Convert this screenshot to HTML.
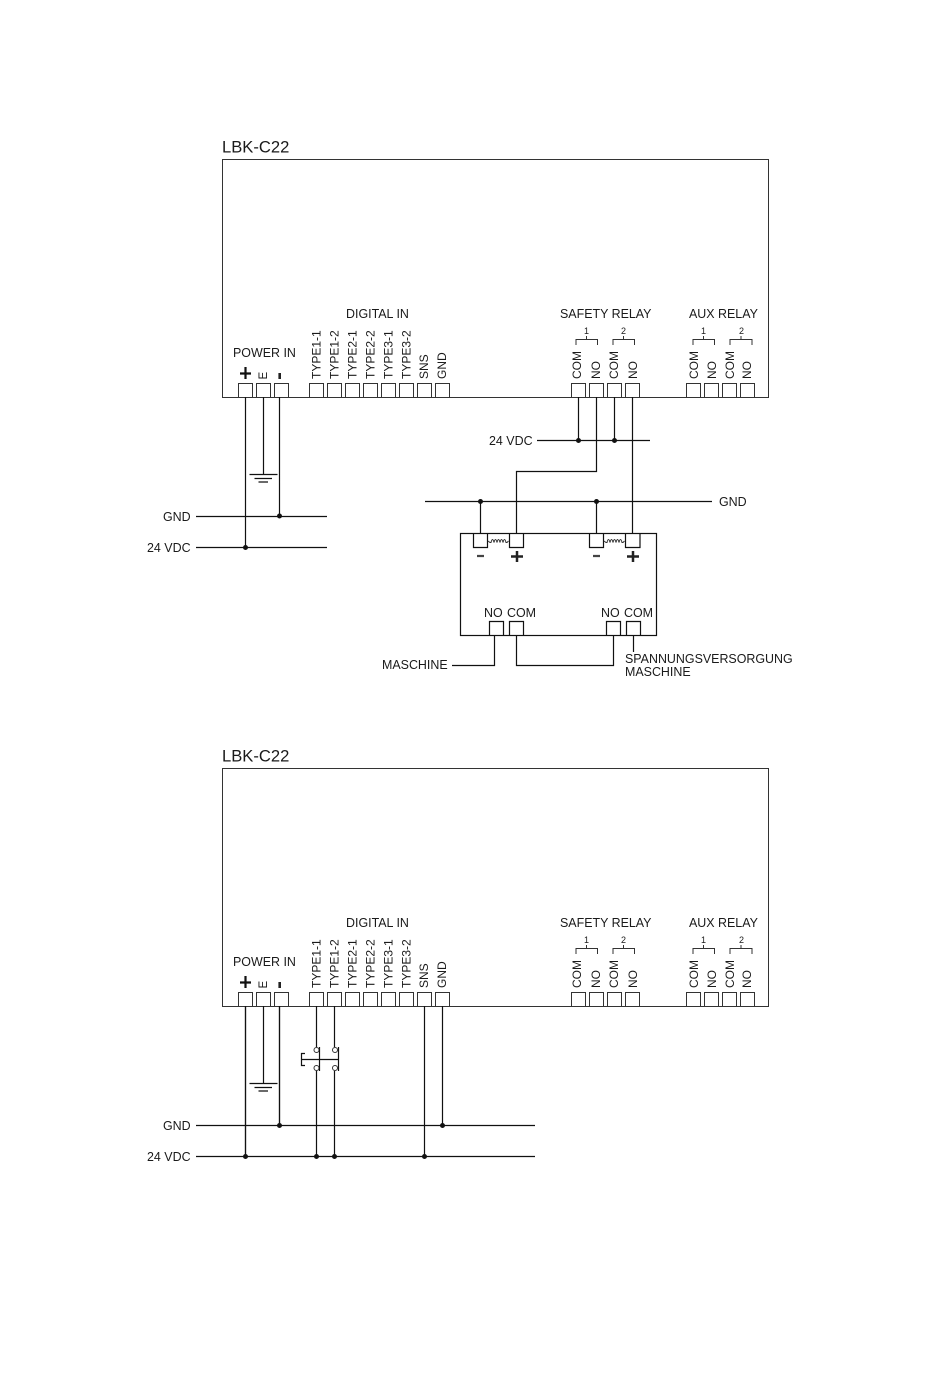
<!DOCTYPE html>
<html><head><meta charset="utf-8"><style>
html,body{margin:0;padding:0;background:#fff}
svg{display:block}
text{font-family:"Liberation Sans",sans-serif;font-size:12.45px;fill:#1a1a1a}
text[transform]{font-size:12px}
.l{fill:none;stroke:#111;stroke-width:1.2}
.t{fill:none;stroke:#333;stroke-width:1}
.d{fill:#111}
.b{font-size:16.6px}
</style></head><body>
<svg width="950" height="1378" viewBox="0 0 950 1378" xmlns="http://www.w3.org/2000/svg">
<defs>
<g id="frame">
<rect class="t" x="222.5" y="159.5" width="546" height="238"/>
<path class="t" d="M238.5 397V383.5H252.5V397M256.5 397V383.5H270.5V397M274.5 397V383.5H288.5V397M309.5 397V383.5H323.5V397M327.5 397V383.5H341.5V397M345.5 397V383.5H359.5V397M363.5 397V383.5H377.5V397M381.5 397V383.5H395.5V397M399.5 397V383.5H413.5V397M417.5 397V383.5H431.5V397M435.5 397V383.5H449.5V397"/>
<path class="t" d="M571.5 397V383.5H585.5V397M589.5 397V383.5H603.5V397M607.5 397V383.5H621.5V397M625.5 397V383.5H639.5V397M686.5 397V383.5H700.5V397M704.5 397V383.5H718.5V397M722.5 397V383.5H736.5V397M740.5 397V383.5H754.5V397"/>
<path class="t" d="M576 345V339.500H597.500V345M613 345V339.500H634.500V345M693 345V339.500H714.500V345M730 345V339.500H752V345"/>
<path class="t" d="M586.500 339.500V336M623.500 339.500V336M703.500 339.500V336M741 339.500V336"/>
<path d="M245.500 367V379M240 373.500H251" stroke="#111" stroke-width="2.200" fill="none"/>
<path d="M279.700 373V379" stroke="#222" stroke-width="2.600" fill="none"/>
<path class="l" d="M245.500 397V547.500M263.500 397V474.500M279.500 397V516M249.500 474.500H277.500M254.500 478.500H272M258.500 482H268"/>
</g>
</defs>

<use href="#frame"/>
<use href="#frame" y="609"/>

<text class="b" x="222" y="152.500">LBK-C22</text>
<text x="233" y="357">POWER IN</text>
<text x="346" y="318">DIGITAL IN</text>
<text x="560" y="318">SAFETY RELAY</text>
<text x="689" y="318">AUX RELAY</text>
<text x="584" y="334" style="font-size:9px">1</text>
<text x="621" y="334" style="font-size:9px">2</text>
<text x="701" y="334" style="font-size:9px">1</text>
<text x="739" y="334" style="font-size:9px">2</text>
<text transform="translate(267,379.500) rotate(-90)" style="font-size:11.500px">E</text>
<text transform="translate(320.500,379) rotate(-90)">TYPE1-1</text>
<text transform="translate(338.500,379) rotate(-90)">TYPE1-2</text>
<text transform="translate(356.500,379) rotate(-90)">TYPE2-1</text>
<text transform="translate(374.500,379) rotate(-90)">TYPE2-2</text>
<text transform="translate(392.500,379) rotate(-90)">TYPE3-1</text>
<text transform="translate(410.500,379) rotate(-90)">TYPE3-2</text>
<text transform="translate(428,379) rotate(-90)">SNS</text>
<text transform="translate(446,379) rotate(-90)">GND</text>
<text transform="translate(581,379) rotate(-90)">COM</text>
<text transform="translate(600,379) rotate(-90)">NO</text>
<text transform="translate(618,379) rotate(-90)">COM</text>
<text transform="translate(637,379) rotate(-90)">NO</text>
<text transform="translate(698,379) rotate(-90)">COM</text>
<text transform="translate(716,379) rotate(-90)">NO</text>
<text transform="translate(734,379) rotate(-90)">COM</text>
<text transform="translate(751,379) rotate(-90)">NO</text>

<text class="b" x="222" y="761.500">LBK-C22</text>
<text x="233" y="966">POWER IN</text>
<text x="346" y="927">DIGITAL IN</text>
<text x="560" y="927">SAFETY RELAY</text>
<text x="689" y="927">AUX RELAY</text>
<text x="584" y="943" style="font-size:9px">1</text>
<text x="621" y="943" style="font-size:9px">2</text>
<text x="701" y="943" style="font-size:9px">1</text>
<text x="739" y="943" style="font-size:9px">2</text>
<text transform="translate(267,988.500) rotate(-90)" style="font-size:11.500px">E</text>
<text transform="translate(320.500,988) rotate(-90)">TYPE1-1</text>
<text transform="translate(338.500,988) rotate(-90)">TYPE1-2</text>
<text transform="translate(356.500,988) rotate(-90)">TYPE2-1</text>
<text transform="translate(374.500,988) rotate(-90)">TYPE2-2</text>
<text transform="translate(392.500,988) rotate(-90)">TYPE3-1</text>
<text transform="translate(410.500,988) rotate(-90)">TYPE3-2</text>
<text transform="translate(428,988) rotate(-90)">SNS</text>
<text transform="translate(446,988) rotate(-90)">GND</text>
<text transform="translate(581,988) rotate(-90)">COM</text>
<text transform="translate(600,988) rotate(-90)">NO</text>
<text transform="translate(618,988) rotate(-90)">COM</text>
<text transform="translate(637,988) rotate(-90)">NO</text>
<text transform="translate(698,988) rotate(-90)">COM</text>
<text transform="translate(716,988) rotate(-90)">NO</text>
<text transform="translate(734,988) rotate(-90)">COM</text>
<text transform="translate(751,988) rotate(-90)">NO</text>

<!-- Top diagram -->
<path class="l" d="M196 516.500H327M196 547.500H327"/>
<circle class="d" cx="279.500" cy="516" r="2.500"/><circle class="d" cx="245.500" cy="547.500" r="2.500"/>
<text x="163" y="521">GND</text><text x="147" y="552">24 VDC</text>

<path class="l" d="M537 440.500H650M578.500 397V440M614.500 397V440M596.500 397V471.500H516.500V533M632.500 397V533"/>
<circle class="d" cx="578.500" cy="440.500" r="2.500"/><circle class="d" cx="614.500" cy="440.500" r="2.500"/>
<text x="489" y="445">24 VDC</text>

<path class="l" d="M425 501.500H712M480.500 501V533M596.500 501V533"/>
<circle class="d" cx="480.500" cy="501.500" r="2.500"/><circle class="d" cx="596.500" cy="501.500" r="2.500"/>
<text x="719" y="506">GND</text>

<rect class="l" x="460.500" y="533.500" width="196" height="102"/>
<path class="l" d="M473.500 534V547.500H487.500V534M509.500 534V547.500H523.500V534M589.500 534V547.500H603.500V534M625.500 534V547.500H640V534"/>
<path class="t" d="M488 541l2 1.500h1c1-4 2-4 3 0c1-4 2-4 3 0c1-4 2-4 3 0c1-4 2-4 3 0c1-4 2-4 3 0h1l1.500-1.500"/>
<path class="t" d="M604 541l2 1.500h1c1-4 2-4 3 0c1-4 2-4 3 0c1-4 2-4 3 0c1-4 2-4 3 0c1-4 2-4 3 0h1l1.500-1.500"/>
<path d="M477 556H484M593 556H600" stroke="#444" stroke-width="2.200" fill="none"/>
<path d="M517 551V562M511 556.500H523M633 551V562M627 556.500H639" stroke="#222" stroke-width="2.500" fill="none"/>

<path class="l" d="M489.500 635V621.500H503.500V635M509.500 635V621.500H523.500V635M606.500 635V621.500H620.500V635M626.500 635V621.500H640.500V635"/>
<text x="484" y="617">NO</text><text x="507" y="617">COM</text>
<text x="601" y="617">NO</text><text x="624" y="617">COM</text>
<path class="l" d="M494.500 635V665.500H452M516.500 635V665.500H613.500V635M633.500 635V652"/>
<text x="382" y="669">MASCHINE</text>
<text x="625" y="663">SPANNUNGSVERSORGUNG</text>
<text x="625" y="676">MASCHINE</text>

<!-- Bottom diagram -->
<path class="l" d="M196 1125.500H535M196 1156.500H535"/>
<circle class="d" cx="279.500" cy="1125.500" r="2.500"/><circle class="d" cx="442.500" cy="1125.500" r="2.500"/>
<circle class="d" cx="245.500" cy="1156.500" r="2.500"/><circle class="d" cx="316.500" cy="1156.500" r="2.500"/><circle class="d" cx="334.500" cy="1156.500" r="2.500"/><circle class="d" cx="424.500" cy="1156.500" r="2.500"/>
<text x="163" y="1130">GND</text><text x="147" y="1161">24 VDC</text>
<path class="l" d="M245.500 1006V1156M279.500 1006V1125M442.500 1006V1125M424.500 1006V1156"/>
<path class="l" d="M316.500 1006V1047M334.500 1006V1047M316.500 1071V1156M334.500 1071V1156"/>
<circle class="t" cx="316.500" cy="1050" r="2.500"/><circle class="t" cx="335" cy="1050" r="2.500"/>
<circle class="t" cx="316.500" cy="1068" r="2.500"/><circle class="t" cx="335" cy="1068" r="2.500"/>
<path class="l" d="M305 1053.500H301.500V1065.500H305M301.500 1059.500H338.500M319.500 1047V1071M338.500 1047V1071"/>
</svg>
</body></html>
